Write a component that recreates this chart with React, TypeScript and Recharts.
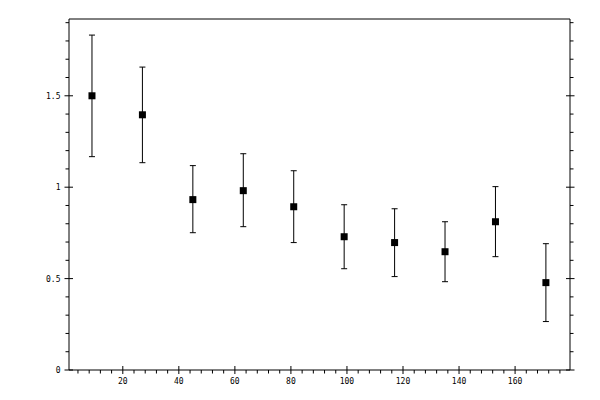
import React from "react";
import { ScatterChart, Scatter, XAxis, YAxis, ErrorBar } from "recharts";

// bin centres and measured values with lower/upper error limits
const xValues = [9, 27, 45, 63, 81, 99, 117, 135, 153, 171];
const yValues = [1.5, 1.396, 0.932, 0.981, 0.893, 0.729, 0.697, 0.647, 0.811, 0.478];
const yLower = [1.167, 1.134, 0.751, 0.784, 0.697, 0.554, 0.511, 0.483, 0.62, 0.265];
const yUpper = [1.832, 1.657, 1.118, 1.183, 1.09, 0.904, 0.882, 0.811, 1.003, 0.691];

const xMajorTicks = [20, 40, 60, 80, 100, 120, 140, 160];
const xTickLabels = ["20", "40", "60", "80", "100", "120", "140", "160"];
const yMajorTicks = [0, 0.5, 1, 1.5];
const yTickLabels = ["0", "0.5", "1", "1.5"];

const X_DOMAIN: [number, number] = [0.8, 179.6];
const Y_DOMAIN: [number, number] = [0, 1.92];

// minor tick positions (axis decoration only)
const xAllTicks = Array.from({ length: 44 }, (_, i) => (i + 1) * 4);
const yAllTicks = Array.from({ length: 20 }, (_, i) => Math.round(i * 10) / 100);

const data = xValues.map((x, i) => ({
  x,
  y: yValues[i],
  err: [yValues[i] - yLower[i], yUpper[i] - yValues[i]],
}));

const FONT = "'DejaVu Sans Mono', monospace";

const isMajor = (v: number, majors: number[]) => majors.some((m) => Math.abs(m - v) < 1e-6);

function BottomTick(props: any) {
  const { x, y, payload } = props;
  const v = payload.value as number;
  const idx = xMajorTicks.findIndex((m) => Math.abs(m - v) < 1e-6);
  if (idx >= 0) {
    return (
      <g>
        <line x1={x} x2={x} y1={y - 4} y2={y + 4} stroke="#000" />
        <text x={x} y={y + 14} textAnchor="middle" fontSize={8} fontFamily={FONT} fill="#000">
          {xTickLabels[idx]}
        </text>
      </g>
    );
  }
  return <line x1={x} x2={x} y1={y} y2={y + 3.5} stroke="#000" />;
}

function TopTick(props: any) {
  const { x, y, payload } = props;
  const v = payload.value as number;
  if (isMajor(v, xMajorTicks)) {
    return <line x1={x} x2={x} y1={y - 4} y2={y + 4} stroke="#000" />;
  }
  return <line x1={x} x2={x} y1={y} y2={y - 3.5} stroke="#000" />;
}

function LeftTick(props: any) {
  const { x, y, payload } = props;
  const v = payload.value as number;
  const idx = yMajorTicks.findIndex((m) => Math.abs(m - v) < 1e-6);
  if (idx >= 0) {
    return (
      <g>
        <line x1={x - 4.5} x2={x + 4} y1={y} y2={y} stroke="#000" />
        <text x={x - 8.5} y={y + 3} textAnchor="end" fontSize={8} fontFamily={FONT} fill="#000">
          {yTickLabels[idx]}
        </text>
      </g>
    );
  }
  return <line x1={x - 3.5} x2={x} y1={y} y2={y} stroke="#000" />;
}

function RightTick(props: any) {
  const { x, y, payload } = props;
  const v = payload.value as number;
  if (isMajor(v, yMajorTicks)) {
    return <line x1={x - 4} x2={x + 4.5} y1={y} y2={y} stroke="#000" />;
  }
  return <line x1={x} x2={x + 3.5} y1={y} y2={y} stroke="#000" />;
}

function SquareMarker(props: any) {
  const { cx, cy } = props;
  return <rect x={cx - 3.5} y={cy - 3.5} width={7} height={7} fill="#000" />;
}

export default function App() {
  return (
    <div style={{ position: "absolute", left: 0, top: 0, width: 600, height: 400, background: "#fff" }}>
      <ScatterChart width={600} height={400} margin={{ top: 0, right: 0, bottom: 0, left: 0 }}>
        <XAxis
          xAxisId="b"
          type="number"
          dataKey="x"
          domain={X_DOMAIN}
          ticks={xAllTicks}
          interval={0}
          orientation="bottom"
          height={30}
          tickSize={0}
          tickMargin={0}
          tickLine={false}
          axisLine={{ stroke: "#000" }}
          tick={BottomTick}
          allowDataOverflow
        />
        <XAxis
          xAxisId="t"
          type="number"
          domain={X_DOMAIN}
          ticks={xAllTicks}
          interval={0}
          orientation="top"
          height={19}
          tickSize={0}
          tickMargin={0}
          tickLine={false}
          axisLine={{ stroke: "#000" }}
          tick={TopTick}
          allowDataOverflow
        />
        <YAxis
          yAxisId="l"
          type="number"
          dataKey="y"
          domain={Y_DOMAIN}
          ticks={yAllTicks}
          interval={0}
          orientation="left"
          width={69}
          tickSize={0}
          tickMargin={0}
          tickLine={false}
          axisLine={{ stroke: "#000" }}
          tick={LeftTick}
          allowDataOverflow
        />
        <YAxis
          yAxisId="r"
          type="number"
          domain={Y_DOMAIN}
          ticks={yAllTicks}
          interval={0}
          orientation="right"
          width={30}
          tickSize={0}
          tickMargin={0}
          tickLine={false}
          axisLine={{ stroke: "#000" }}
          tick={RightTick}
          allowDataOverflow
        />
        <Scatter
          xAxisId="b"
          yAxisId="l"
          data={data}
          fill="#000"
          shape={SquareMarker}
          isAnimationActive={false}
        >
          <ErrorBar dataKey="err" direction="y" width={3} stroke="#000" strokeWidth={1} isAnimationActive={false} />
        </Scatter>
      </ScatterChart>
    </div>
  );
}
